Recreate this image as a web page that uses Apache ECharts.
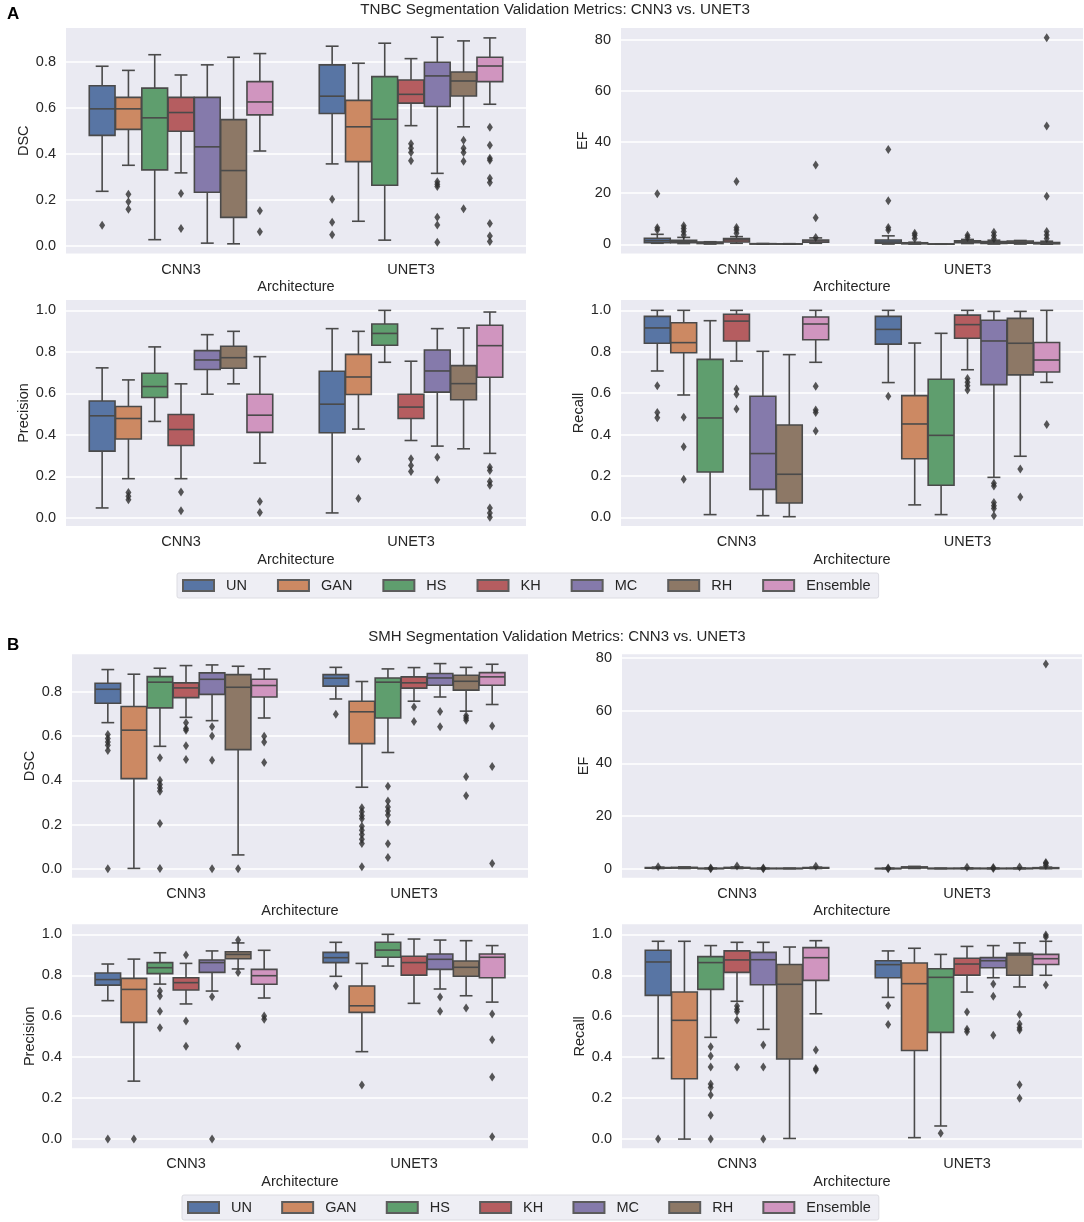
<!DOCTYPE html>
<html>
<head>
<meta charset="utf-8">
<title>Segmentation Validation Metrics</title>
<style>html,body{margin:0;padding:0;background:#fff}#chart{width:1084px;height:1222px}</style>
<script src="https://cdn.jsdelivr.net/npm/echarts@6/dist/echarts.min.js"></script>
</head>
<body>
<div id="chart"></div>
<script>
const architectures = ['CNN3', 'UNET3'];
const hues = ['UN', 'GAN', 'HS', 'KH', 'MC', 'RH', 'Ensemble'];
const hueColors = ['#5875a4', '#cc8963', '#5f9e6e', '#b55d60', '#857aab', '#8d7866', '#d095bf'];
const ratioTicks = [0, 0.2, 0.4, 0.6, 0.8];
const unitTicks = [0, 0.2, 0.4, 0.6, 0.8, 1.0];
const efTicks = [0, 20, 40, 60, 80];

// Every box is [low whisker, Q1, median, Q3, high whisker]; one row per hue, [CNN3, UNET3]
const tnbcDscBoxes = [
  [[.237,.48,.595,.695,.78],[.356,.575,.65,.786,.867]],
  [[.35,.506,.595,.645,.762],[.107,.366,.517,.632,.793]],
  [[.027,.33,.556,.685,.83],[.025,.263,.55,.735,.88]],
  [[.317,.498,.579,.645,.742],[.522,.62,.658,.72,.813]],
  [[.012,.233,.43,.645,.786],[.315,.605,.738,.797,.906]],
  [[.009,.124,.327,.548,.819],[.517,.651,.716,.755,.89]],
  [[.412,.569,.625,.713,.835],[.615,.713,.781,.819,.903]]
];
const tnbcDscFliers = [
  [[.09],[.203,.103,.048]],
  [[.224,.192,.159],[]],
  [[],[]],
  [[.227,.075],[.444,.424,.405,.37]],
  [[],[.279,.268,.258,.124,.091,.016]],
  [[],[.459,.424,.405,.368,.161]],
  [[.153,.061],[.515,.437,.38,.372,.294,.275,.097,.043,.019]]
];
const tnbcEfBoxes = [
  [[.4,.65,1.4,2.3,3.9],[.1,.4,.9,1.7,3.3]],
  [[.3,.6,1,1.6,2.7],[.1,.2,.4,.6,.8]],
  [[.1,.3,.5,.9,1],[.02,.05,.1,.15,.2]],
  [[.4,.9,1.7,2.2,3],[.3,.6,1,1.4,1.9]],
  [[.05,.1,.2,.25,.3],[.1,.3,.6,1.1,1.6]],
  [[.05,.1,.15,.2,.25],[.1,.4,.8,1.3,1.5]],
  [[.4,.8,1.3,1.7,2.5],[.05,.2,.4,.7,1.2]]
];
const tnbcEfFliers = [
  [[19.8,6.5,5.6],[37.1,17,6.6,5.6]],
  [[7.3,6.2,5,3.6],[4.3,3.5,2.3]],
  [[],[]],
  [[24.6,6.6,5.6,4.3],[3.5,2.7]],
  [[],[4.7,3.4,2.2]],
  [[],[]],
  [[31,10.4,2.7],[80.8,46.3,18.8,5,3.6,2.3]]
];
const tnbcPrecisionBoxes = [
  [[.048,.322,.492,.563,.723],[.024,.41,.548,.707,.912]],
  [[.189,.38,.479,.537,.665],[.428,.595,.679,.788,.899]],
  [[.465,.58,.633,.697,.824],[.75,.832,.889,.934,1]],
  [[.189,.349,.426,.498,.646],[.373,.479,.534,.596,.755]],
  [[.596,.715,.761,.806,.883],[.346,.606,.708,.809,.912]],
  [[.646,.721,.772,.827,.899],[.333,.569,.647,.734,.915]],
  [[.264,.412,.495,.596,.777],[.311,.678,.83,.928,.992]]
];
const tnbcPrecisionFliers = [
  [[],[]],
  [[.123,.104,.088],[.284,.093]],
  [[],[]],
  [[.125,.035],[.285,.253,.224]],
  [[],[.292,.184]],
  [[],[]],
  [[.079,.026],[.244,.228,.176,.157,.048,.024,.003]]
];
const tnbcRecallBoxes = [
  [[.707,.841,.915,.971,1],[.651,.837,.908,.971,1]],
  [[.591,.795,.844,.94,1],[.06,.283,.451,.588,.842]],
  [[.013,.219,.48,.763,.95],[.013,.155,.396,.667,.889]],
  [[.755,.852,.948,.981,1],[.713,.865,.931,.977,1]],
  [[.008,.135,.308,.585,.802],[.193,.641,.852,.952,.995]],
  [[.003,.069,.208,.446,.786],[.295,.688,.841,.961,.995]],
  [[.749,.858,.934,.968,1],[.652,.702,.76,.845,1]]
];
const tnbcRecallFliers = [
  [[.636,.507,.481],[.585]],
  [[.483,.341,.184],[]],
  [[],[]],
  [[.62,.594,.523],[.671,.652,.636,.615]],
  [[],[.164,.151,.072,.056,.043,.008]],
  [[],[.233,.098]],
  [[.633,.519,.507,.417],[.448]]
];
const smhDscBoxes = [
  [[.661,.749,.812,.839,.901],[.768,.826,.862,.878,.911]],
  [[.002,.408,.627,.734,.88],[.369,.566,.71,.758,.847]],
  [[.554,.728,.844,.869,.907],[.526,.682,.844,.863,.904]],
  [[.685,.774,.818,.841,.919],[.758,.817,.841,.868,.91]],
  [[.67,.789,.857,.886,.922],[.777,.83,.863,.883,.928]],
  [[.063,.539,.821,.878,.916],[.713,.808,.848,.875,.911]],
  [[.682,.777,.829,.857,.904],[.743,.83,.868,.887,.925]]
];
const smhDscFliers = [
  [[.607,.589,.574,.559,.535,0],[.699]],
  [[],[.276,.258,.24,.227,.193,.175,.155,.134,.115,.009]],
  [[.502,.401,.381,.366,.351,.205,.002],[.374,.307,.28,.261,.243,.212,.113,.051]],
  [[.661,.634,.627,.557,.494],[.732,.666]],
  [[.643,.601,.491,0],[.711,.642]],
  [[0],[.692,.682,.672,.416,.331]],
  [[.6,.574,.481],[.646,.463,.024]]
];
const smhEfBoxes = [
  [[.1,.2,.3,.45,.6],[.02,.04,.08,.12,.2]],
  [[.1,.25,.4,.5,.7],[.1,.3,.5,.7,.9]],
  [[.02,.05,.1,.15,.25],[.02,.05,.1,.15,.2]],
  [[.1,.2,.35,.5,.65],[.02,.05,.1,.2,.3]],
  [[.02,.05,.1,.15,.2],[.02,.05,.1,.15,.25]],
  [[.02,.05,.1,.15,.2],[.02,.05,.1,.2,.3]],
  [[.1,.2,.3,.45,.6],[.05,.1,.2,.4,.6]]
];
const smhEfFliers = [
  [[.8],[.3,0]],
  [[],[]],
  [[.3,0],[]],
  [[1],[.6]],
  [[.3,0],[.5,.1]],
  [[],[.7]],
  [[.9],[77.7,2.4,2,1.2]]
];
const smhPrecisionBoxes = [
  [[.676,.752,.779,.811,.855],[.795,.862,.886,.912,.961]],
  [[.283,.57,.731,.785,.879],[.427,.619,.651,.748,.858]],
  [[.757,.808,.837,.862,.91],[.845,.888,.923,.961,1]],
  [[.66,.728,.764,.788,.858],[.663,.801,.862,.893,.977]],
  [[.723,.814,.862,.875,.919],[.733,.829,.878,.904,.972]],
  [[.831,.881,.902,.915,.958],[.7,.795,.839,.87,.969]],
  [[.689,.756,.798,.829,.922],[.669,.788,.888,.904,.945]]
];
const smhPrecisionFliers = [
  [[0],[.748]],
  [[0],[.264]],
  [[.723,.699,.624,.544],[]],
  [[.899,.577,.454],[]],
  [[.695,0],[.694,.624]],
  [[.972,.814,.454],[.64]],
  [[.601,.585],[.611,.485,.303,.011]]
];
const smhRecallBoxes = [
  [[.394,.702,.865,.922,.966],[.692,.788,.852,.871,.919]],
  [[0,.295,.58,.718,.966],[.007,.433,.759,.86,.932]],
  [[.497,.731,.862,.891,.945],[.064,.521,.79,.832,.902]],
  [[.673,.814,.875,.919,.961],[.718,.801,.855,.883,.941]],
  [[.536,.754,.876,.912,.961],[.788,.837,.871,.886,.945]],
  [[.003,.391,.756,.853,.938],[.743,.8,.899,.907,.958]],
  [[.612,.775,.886,.935,.969],[.8,.853,.881,.902,.966]]
];
const smhRecallFliers = [
  [[0],[.653,.56]],
  [[],[]],
  [[.451,.406,.352,.269,.252,.215,.117,0],[.028]],
  [[.65,.634,.622,.581,.352],[.621,.537,.524]],
  [[.459,.352,0],[.757,.697,.507]],
  [[],[.609,.562,.544,.533,.265,.2]],
  [[.435,.345,.337],[.997,.987,.752]]
];

const panels = [
  {name:'DSC', boxes:tnbcDscBoxes, fliers:tnbcDscFliers, ticks:ratioTicks, left:66, right:526, top:28, bottom:253.5, min:-.033, max:.946, gap:34},
  {name:'EF', boxes:tnbcEfBoxes, fliers:tnbcEfFliers, ticks:efTicks, left:621, right:1083, top:28, bottom:253.5, min:-3.6, max:84.6, gap:31},
  {name:'Precision', boxes:tnbcPrecisionBoxes, fliers:tnbcPrecisionFliers, ticks:unitTicks, left:66, right:526, top:300, bottom:526, min:-.039, max:1.05, gap:34},
  {name:'Recall', boxes:tnbcRecallBoxes, fliers:tnbcRecallFliers, ticks:unitTicks, left:621, right:1083, top:300, bottom:526, min:-.042, max:1.05, gap:35},
  {name:'DSC', boxes:smhDscBoxes, fliers:smhDscFliers, ticks:ratioTicks, left:72, right:528, top:654.3, bottom:877.7, min:-.04, max:.97, gap:34},
  {name:'EF', boxes:smhEfBoxes, fliers:smhEfFliers, ticks:efTicks, left:622, right:1082, top:654.3, bottom:877.7, min:-3.4, max:81.4, gap:30},
  {name:'Precision', boxes:smhPrecisionBoxes, fliers:smhPrecisionFliers, ticks:unitTicks, left:72, right:528, top:924.3, bottom:1148.3, min:-.045, max:1.049, gap:34},
  {name:'Recall', boxes:smhRecallBoxes, fliers:smhRecallFliers, ticks:unitTicks, left:622, right:1082, top:924.3, bottom:1148.3, min:-.045, max:1.049, gap:34}
];

const FONT = '"Liberation Sans", Arial, sans-serif';
const INK = '#262626';
const LINE = '#4a4a4a';
const HUE_STEP = 0.8 / hues.length;
const BOX_WIDTH = HUE_STEP * 0.98;

function renderBox(params, api) {
  const x = api.value(0), half = BOX_WIDTH / 2, cap = BOX_WIDTH / 4;
  const P = (dx, v) => api.coord([x + dx, v]);
  const lo = api.value(1), q1 = api.value(2), med = api.value(3), q3 = api.value(4), hi = api.value(5);
  const ls = {stroke: LINE, lineWidth: 1.6, fill: null};
  const seg = (a, b) => ({type: 'line', shape: {x1: a[0], y1: a[1], x2: b[0], y2: b[1]}, style: ls});
  const tl = P(-half, q3), br = P(half, q1);
  return {type: 'group', children: [
    seg(P(0, lo), P(0, q1)),
    seg(P(0, q3), P(0, hi)),
    seg(P(-cap, lo), P(cap, lo)),
    seg(P(-cap, hi), P(cap, hi)),
    {type: 'rect', shape: {x: tl[0], y: tl[1], width: br[0] - tl[0], height: br[1] - tl[1]},
     style: {fill: api.visual('color'), stroke: LINE, lineWidth: 1.6}},
    seg(P(-half, med), P(half, med))
  ]};
}

const grid = [], xAxis = [], yAxis = [], series = [];
panels.forEach((p, i) => {
  grid.push({show: true, left: p.left, width: p.right - p.left, top: p.top, height: p.bottom - p.top,
    backgroundColor: '#eaeaf2', borderWidth: 0});
  xAxis.push({type: 'category', gridIndex: i, data: architectures, position: 'bottom',
    axisLine: {show: false}, axisTick: {show: false}, splitLine: {show: false},
    axisLabel: {margin: 8.5, color: INK, fontSize: 14.5, fontFamily: FONT},
    name: 'Architecture', nameLocation: 'middle', nameGap: 26,
    nameTextStyle: {color: INK, fontSize: 14.5, fontFamily: FONT}});
  xAxis.push({type: 'value', gridIndex: i, show: false, min: -0.5, max: 1.5, splitLine: {show: false}});
  yAxis.push({type: 'value', gridIndex: i, min: p.min, max: p.max,
    axisLine: {show: false},
    axisTick: {show: false, customValues: p.ticks},
    splitLine: {show: true, lineStyle: {color: '#ffffff', width: 1.5}},
    axisLabel: {customValues: p.ticks, margin: 10, color: INK, fontSize: 14.5, fontFamily: FONT,
      formatter: v => p.name === 'EF' ? String(v) : Number(v).toFixed(1)},
    name: p.name, nameLocation: 'middle', nameGap: p.gap, nameRotate: 90,
    nameTextStyle: {color: INK, fontSize: 14.5, fontFamily: FONT}});
  hues.forEach((hue, h) => {
    const xOf = g => g + (h - (hues.length - 1) / 2) * HUE_STEP;
    series.push({type: 'custom', name: hue, xAxisIndex: i * 2 + 1, yAxisIndex: i,
      renderItem: renderBox, clip: false,
      itemStyle: {color: hueColors[h], borderColor: '#5c5c5c', borderWidth: 1},
      encode: {x: 0, y: [1, 2, 3, 4, 5]},
      data: p.boxes[h].map((b, g) => [xOf(g), ...b])});
    const pts = [];
    p.fliers[h].forEach((vals, g) => vals.forEach(v => pts.push([xOf(g), v])));
    series.push({type: 'scatter', name: hue, xAxisIndex: i * 2 + 1, yAxisIndex: i, z: 3,
      symbol: 'diamond', symbolSize: [6, 9], itemStyle: {color: '#2e2e2e'}, data: pts,
      silent: true, legendHoverLink: false});
  });
});

const legendBase = {
  orient: 'horizontal', data: hues, icon: 'rect', itemWidth: 31, itemHeight: 11, itemGap: 30,
  backgroundColor: '#eeeef4', borderColor: '#dcdce2', borderWidth: 1, borderRadius: 2,
  padding: [5, 8, 5, 5], selectedMode: false,
  textStyle: {color: INK, fontSize: 14.5, fontFamily: FONT, padding: [0, 0, 0, 7]}
};

const chart = echarts.init(document.getElementById('chart'), null, {renderer: 'canvas'});
chart.setOption({
  animation: false,
  backgroundColor: '#ffffff',
  title: [
    {text: 'TNBC Segmentation Validation Metrics: CNN3 vs. UNET3', left: 550, top: -3, textAlign: 'center',
     textStyle: {color: INK, fontSize: 15.2, fontWeight: 'normal', fontFamily: FONT}},
    {text: 'SMH Segmentation Validation Metrics: CNN3 vs. UNET3', left: 552, top: 624, textAlign: 'center',
     textStyle: {color: INK, fontSize: 15, fontWeight: 'normal', fontFamily: FONT}},
    {text: 'A', left: 2, top: 1, textStyle: {color: '#000', fontSize: 17, fontWeight: 'bold', fontFamily: FONT}},
    {text: 'B', left: 2, top: 632, textStyle: {color: '#000', fontSize: 17, fontWeight: 'bold', fontFamily: FONT}}
  ],
  legend: [
    Object.assign({}, legendBase, {left: 177, top: 573}),
    Object.assign({}, legendBase, {left: 182, top: 1195, itemGap: 29.2})
  ],
  grid, xAxis, yAxis, series
});
</script>
</body>
</html>
